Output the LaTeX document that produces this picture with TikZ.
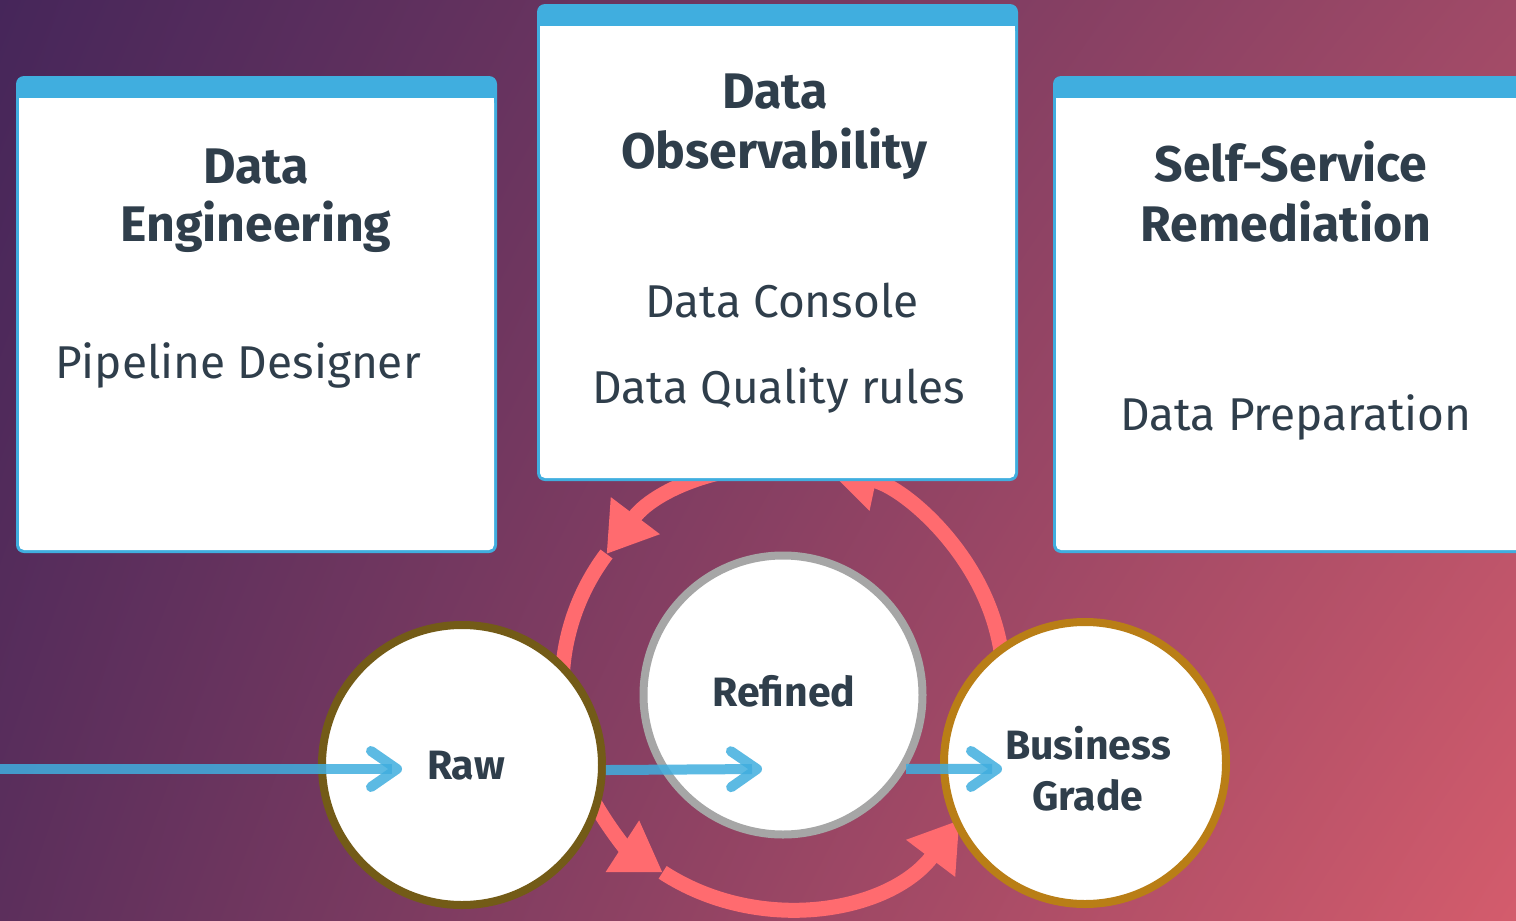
\documentclass[tikz,border=0pt]{standalone}
\usepackage{fontspec}
\setmainfont{Fira Sans}
\usetikzlibrary{arrows.meta, shadings}

\definecolor{bgtl}{RGB}{70,38,90}
\definecolor{bgtr}{RGB}{160,74,103}
\definecolor{bgbl}{RGB}{92,47,92}
\definecolor{bgbr}{RGB}{212,92,108}
\definecolor{headblue}{RGB}{64,174,223}
\definecolor{inkgray}{RGB}{47,62,75}
\definecolor{ringred}{RGB}{255,107,111}
\definecolor{rawrim}{RGB}{115,91,23}
\definecolor{refrim}{RGB}{166,166,166}
\definecolor{bizrim}{RGB}{185,126,22}

\tikzset{
  title/.style={anchor=base, text=inkgray, inner sep=0pt, font=\fontsize{50}{58}\selectfont\bfseries},
  item/.style={anchor=base, text=inkgray, inner sep=0pt, font=\fontsize{46}{54}\selectfont},
  tag/.style={anchor=base, text=inkgray, inner sep=0pt, font=\fontsize{41}{48}\selectfont\bfseries},
  stage/.style={circle, fill=white, line width=8pt, inner sep=0pt},
  flow/.style={draw=headblue, line width=10pt, draw opacity=0.85, -{Straight Barb[length=26pt,width=36pt,round]}},
  ringarrow/.style={draw=ringred, line width=15pt, -{Triangle[length=48pt,width=58pt]}}
}

\begin{document}
\begin{tikzpicture}[x=1pt, y=-1pt]

\path[use as bounding box, clip] (0,0) rectangle (1516,921);
\shade[upper left=bgtl, upper right=bgtr, lower left=bgbl, lower right=bgbr] (0,0) rectangle (1516,921);

% cycle behind the stages
\coordinate (hub) at (783,687);
\foreach \a/\b in {37/-78, -78/-143, -143/-237, -237/-323}
{
    \draw[ringarrow] ([shift={(\a:221)}]hub) arc[start angle=\a, end angle=\b, radius=221];
}

% panels
\foreach \x/\y in {16/76, 537/4, 1053/76}
{
    \fill[headblue, rounded corners=8pt] (\x,\y) rectangle (\x+481,\y+477);
    \fill[white, rounded corners=5pt] (\x+3,\y+22) rectangle (\x+478,\y+474);
    \fill[white] (\x+3,\y+22) rectangle (\x+478,\y+40);
}

\path (256,183) node[title] (eng1) {Data};
\path (256,241) node[title] (eng2) {Engineering};
\path (238,378) node[item] (pipe) {Pipeline Designer};

\path (775,108) node[title] (obs1) {Data};
\path (774,168) node[title] (obs2) {Observability};
\path (782,317) node[item] (console) {Data Console};
\path (779,403) node[item] (rules) {Data Quality rules};

\path (1291,181) node[title] (self1) {Self-Service};
\path (1286,241) node[title] (self2) {Remediation};
\path (1296,430) node[item] (prep) {Data Preparation};

% stages
\path (462,765) node[stage, draw=rawrim, minimum size=280pt] (raw) {};
\path (783,695) node[stage, draw=refrim, minimum size=279pt] (refined) {};
\path (1085,763) node[stage, draw=bizrim, minimum size=282pt] (biz) {};

\path (466,779) node[tag] (rawtxt) {Raw};
\path (784,706) node[tag] (reftxt) {Refined};
\path (1088,759) node[tag] (biztxt1) {Business};
\path (1088,810) node[tag] (biztxt2) {Grade};

\coordinate (feed) at (0,769);
\coordinate (rawtip) at (402,769);
\coordinate (reftip) at (762,769);
\coordinate (biztip) at (1002,769);
\draw[flow] (feed) -- (rawtip);
\draw[flow] (raw.-2) -- (reftip);
\draw[flow] (refined.-31) -- (biztip);

\end{tikzpicture}
\end{document}
